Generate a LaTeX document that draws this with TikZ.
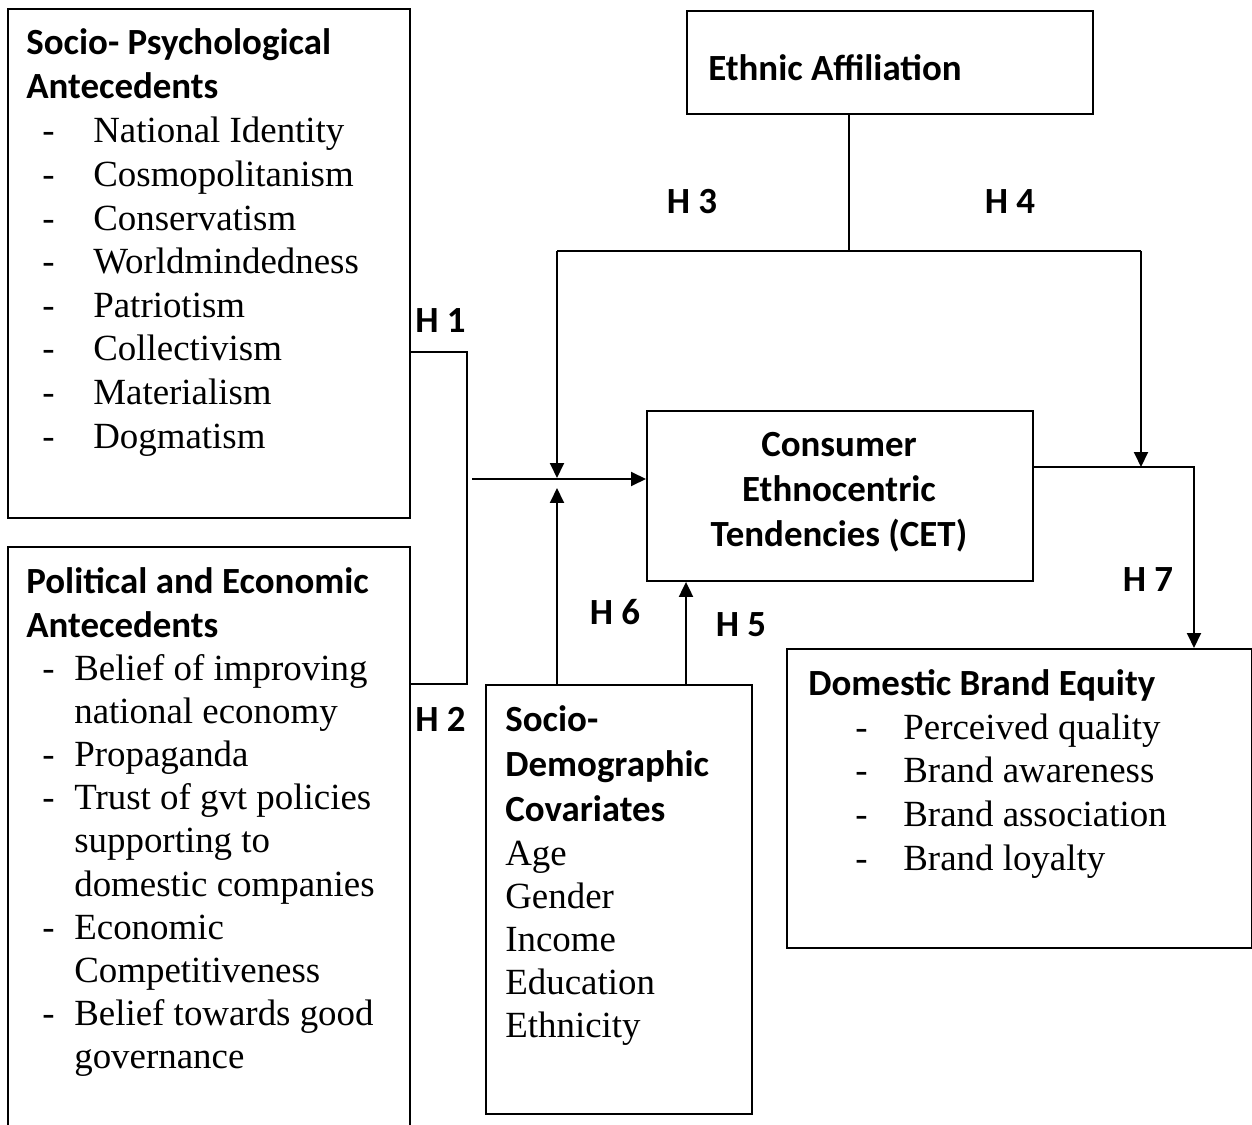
\documentclass[tikz,border=0pt]{standalone}
\usepackage{fontspec}
\setmainfont{Liberation Serif}
\newfontfamily\hfont{Carlito}
\usetikzlibrary{arrows.meta}
\begin{document}
\begin{tikzpicture}[x=0.02cm,y=-0.02cm,
  box/.style={draw, line width=1.1pt, inner sep=0, anchor=north west},
  hd/.style={font=\hfont\bfseries\fontsize{21}{25}\selectfont, inner sep=0, anchor=base west},
  hdc/.style={hd, anchor=base},
  itm/.style={font=\fontsize{21}{25}\selectfont, inner sep=0, anchor=base west},
  itmc/.style={itm, anchor=base},
  con/.style={line width=1.1pt},
  arr/.style={con, -{Triangle[length=0.3cm,width=0.28cm]}}]
\useasboundingbox (0,0) rectangle (1252,1125);
% boxes
\node[box, minimum width=8.04cm, minimum height=10.18cm] (sp) at (7,8) {};
\node[box, minimum width=8.04cm, minimum height=11.8cm] (pe) at (7,546) {};
\node[box, minimum width=8.12cm, minimum height=2.06cm] (ea) at (686,10) {};
\node[box, minimum width=7.72cm, minimum height=3.4cm] (cet) at (646,410) {};
\node[box, minimum width=5.32cm, minimum height=8.58cm] (sd) at (485,684) {};
\node[box, minimum width=9.3cm, minimum height=5.98cm] (dbe) at (786,648) {};
% box 1 text
\node[hd] (sph1) at (26,55) {Socio- Psychological};
\node[hd] (sph2) at (26,99) {Antecedents};
\foreach \t [count=\i] in {National Identity, Cosmopolitanism, Conservatism, Worldmindedness, Patriotism, Collectivism, Materialism, Dogmatism}{
  \node[itm] (spd\i) at (42,{143+43.6*(\i-1)}) {-};
  \node[itm] (spi\i) at (93,{143+43.6*(\i-1)}) {\t};
}
% box 2 text
\node[hd] (peh1) at (26,593) {Political and Economic};
\node[hd] (peh2) at (26,637) {Antecedents};
\foreach \t/\d [count=\i] in {Belief of improving/1, national economy/0, Propaganda/1, Trust of gvt policies/1, supporting to/0, domestic companies/0, Economic/1, Competitiveness/0, Belief towards good/1, governance/0}{
  \ifnum\d=1 \node[itm] (ped\i) at (42,{680+43.2*(\i-1)}) {-}; \fi
  \node[itm] (pei\i) at (74,{680+43.2*(\i-1)}) {\t};
}
% ethnic affiliation
\node[hd] (eat) at (708,81) {Ethnic Affiliation};
% CET
\node[hdc] (cet1) at (839,457) {Consumer};
\node[hdc] (cet2) at (839,501) {Ethnocentric};
\node[hdc] (cet3) at (839,546) {Tendencies (CET)};
% socio-demographic
\node[hd] (sdh1) at (505,731) {Socio-};
\node[hd] (sdh2) at (505,776) {Demographic};
\node[hd] (sdh3) at (505,821) {Covariates};
\foreach \t [count=\i] in {Age, Gender, Income, Education, Ethnicity}{
  \node[itm] (sdi\i) at (505,{865+43*(\i-1)}) {\t};
}
% domestic brand equity
\node[hd] (dbeh) at (808,695) {Domestic Brand Equity};
\foreach \t [count=\i] in {Perceived quality, Brand awareness, Brand association, Brand loyalty}{
  \node[itm] (dbed\i) at (855,{739+43.7*(\i-1)}) {-};
  \node[itm] (dbei\i) at (903,{739+43.7*(\i-1)}) {\t};
}
% hypothesis labels
\node[hd] (h1) at (415,333) {H 1};
\node[hd] (h2) at (415,731) {H 2};
\node[hdc] (h3) at (692,214) {H 3};
\node[hdc] (h4) at (1010,214) {H 4};
\node[hdc] (h5) at (741,636) {H 5};
\node[hdc] (h6) at (615,624) {H 6};
\node[hdc] (h7) at (1148,591) {H 7};
% coordinates
\coordinate (j1) at (467,352);
\coordinate (j2) at (467,684);
\coordinate (m) at (472,479);
\coordinate (t) at (849,251);
\coordinate (tl) at (557,251);
\coordinate (tr) at (1141,251);
\coordinate (dl) at (557,478);
\coordinate (dr) at (1141,467);
\coordinate (c7) at (1194,467);
\coordinate (u6) at (557,488);
\coordinate (u5) at (686,684);
% connectors
\draw[con] (sp.east |- j1) -- (j1) -- (j2) -- (pe.east |- j2);
\draw[arr] (m) -- (m -| cet.west);
\draw[con] (ea.south -| t) -- (t);
\draw[con] (tl) -- (tr);
\draw[arr] (tl) -- (dl);
\draw[arr] (tr) -- (dr);
\draw[arr] (cet.east |- c7) -- (c7) -- (c7 |- dbe.north);
\draw[arr] (u6 |- sd.north) -- (u6);
\draw[arr] (u5) -- (u5 |- cet.south);
\end{tikzpicture}
\end{document}
